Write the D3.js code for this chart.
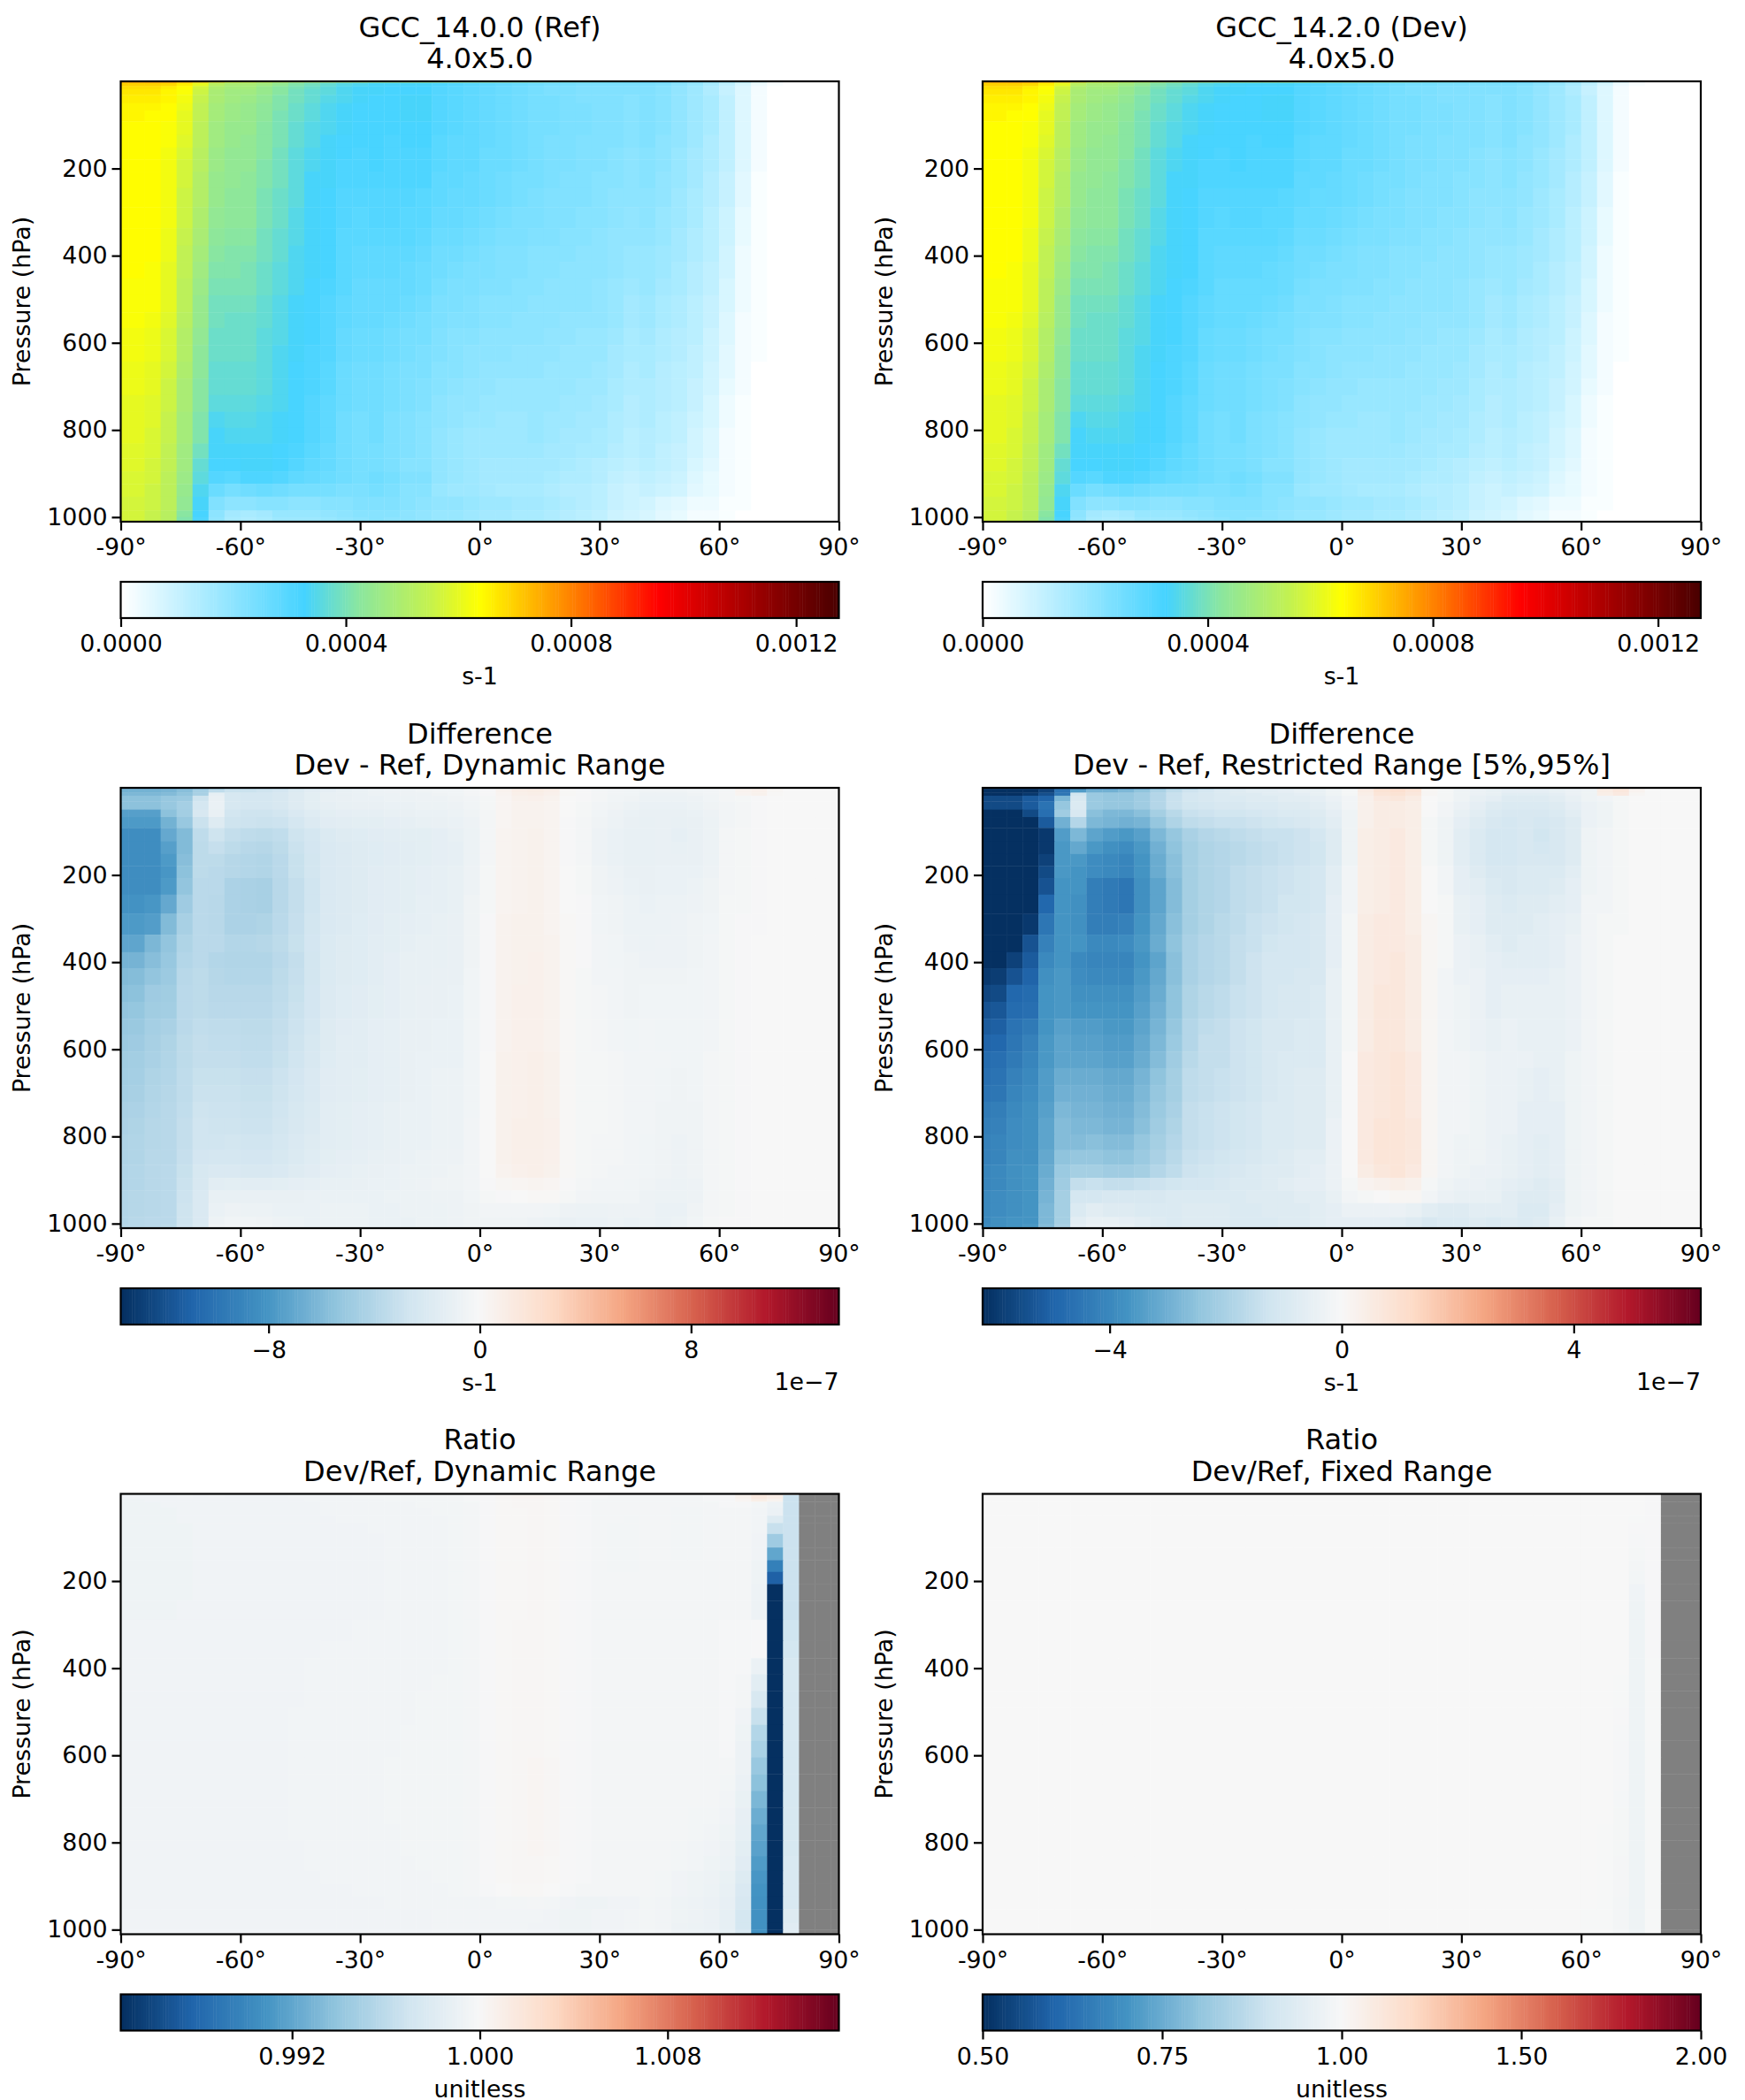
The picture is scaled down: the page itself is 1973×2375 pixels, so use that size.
<!DOCTYPE html>
<html>

<head>
    <style>
        body {
            margin: 0;
            background-color: #ffffff;
        }

        svg {
            display: block;
        }

        text {
            font-family: "DejaVu Sans", sans-serif;
            fill: #000000;
        }
    </style>
</head>

<body>
    <div id="visualization"></div>

    <script src="https://d3js.org/d3.v7.min.js"></script>

    <script>
        // grid: 4x5 latitude bands (half cells at the poles), pressure edges in hPa
        var latEdges = [-90, -88, -84, -80, -76, -72, -68, -64, -60, -56, -52, -48, -44, -40, -36, -32, -28, -24, -20, -16, -12, -8, -4, 0, 4, 8, 12, 16, 20, 24, 28, 32, 36, 40, 44, 48, 52, 56, 60, 64, 68, 72, 76, 80, 84, 88, 90];
        var pressureEdges = [0, 3, 11, 18, 31, 50, 67, 92, 123, 152, 179, 207, 245, 289, 337, 377, 414, 452, 491, 530, 566, 605, 643, 682, 720, 758, 795, 831, 865, 895, 924, 953, 985, 1000, 1010.5];
        var latTicks = [-90, -60, -30, 0, 30, 60, 90];
        var pressureTicks = [200, 400, 600, 800, 1000];

        // Ref field, units of 1e-5 s-1, one line per pressure band, top to bottom
        var refRows = [
            [80,82,83,83,80,76,70,62,60,58,56,55,55,55,55,55,55,55,54,54,53,52,50,48,46,44,42,40,38,37,36,35,34,33,32,30,27,25,22,18,10,3,0,0,0,0],
            [70,70,70,69,66,60,52,49,49,47,44,41,39,37,35,34,33,33,33,33,31,30,29,28,27,26,25,24,24,23,23,23,23,23,22,20,18,15,11,7,3,1,0,0,0,0],
            [68,68,68,66,64,57,50,48,48,45,42,40,38,36,34,33,33,32,32,32,30,29,28,27,26,25,24,23,23,22,22,22,22,22,21,19,17,14,10,6,2,0,0,0,0,0],
            [67,67,67,65,63,56,49,47,47,45,42,39,37,36,34,33,33,32,32,32,30,29,28,27,26,25,24,23,23,22,22,22,22,22,21,19,17,14,10,6,2,0,0,0,0,0],
            [66,66,66,65,62,55,49,47,46,44,41,39,37,35,34,33,32,32,33,33,30,29,28,27,26,25,24,24,23,22,22,22,21,22,21,19,17,15,11,6,2,0,0,0,0,0],
            [65,65,65,64,61,54,48,46,45,43,41,38,36,34,33,32,32,32,33,33,30,29,28,27,26,25,24,24,23,23,22,22,21,22,21,19,17,15,11,6,2,0,0,0,0,0],
            [65,65,64,64,60,54,48,46,45,43,40,38,36,34,33,32,32,32,33,33,30,29,28,27,26,25,24,24,23,23,22,22,21,22,21,19,17,15,11,6,2,0,0,0,0,0],
            [64,64,64,63,60,53,47,45,45,42,40,37,35,34,33,32,32,32,32,32,30,29,28,27,26,25,24,24,23,23,22,22,21,22,21,19,17,15,11,6,2,0,0,0,0,0],
            [64,64,64,63,59,53,47,45,44,42,40,37,35,33,32,32,32,31,32,32,29,28,28,27,26,25,24,23,23,22,22,22,21,22,20,19,17,14,11,6,2,0,0,0,0,0],
            [64,64,64,62,58,52,46,44,44,42,39,36,34,33,32,31,32,31,31,31,29,28,28,26,26,25,24,23,23,22,22,21,20,21,20,18,16,14,11,6,2,0,0,0,0,0],
            [64,64,64,62,57,52,46,44,44,41,39,36,34,33,31,31,32,31,31,31,29,28,28,26,26,25,24,23,23,22,22,21,20,21,20,18,16,14,11,6,2,0,0,0,0,0],
            [64,64,64,62,57,51,45,44,43,41,39,36,33,33,31,31,31,31,31,31,28,28,27,26,25,24,24,23,22,22,21,21,20,21,19,18,16,13,10,5,1,0,0,0,0,0],
            [64,64,64,62,56,51,45,43,43,40,38,36,33,32,30,30,30,30,30,29,28,27,27,26,25,24,23,22,22,22,21,20,20,20,19,17,15,13,10,5,1,0,0,0,0,0],
            [64,64,64,62,56,50,44,43,43,40,38,35,33,32,30,29,30,30,29,29,27,27,26,25,24,23,23,22,22,21,21,20,19,20,18,17,15,12,9,4,1,0,0,0,0,0],
            [64,64,64,61,55,49,43,42,42,39,37,35,33,32,29,29,29,29,29,28,26,26,25,24,23,23,22,22,21,21,20,19,19,19,18,16,14,12,9,4,1,0,0,0,0,0],
            [64,64,64,61,54,48,42,41,41,39,37,34,33,32,29,28,28,28,28,27,25,25,24,23,22,22,21,21,21,20,20,19,18,18,17,16,14,12,8,3,1,0,0,0,0,0],
            [64,64,63,60,54,47,41,41,40,38,36,34,33,32,29,28,28,28,27,26,25,24,23,23,22,22,21,21,20,20,20,19,18,18,17,15,13,11,8,3,1,0,0,0,0,0],
            [63,63,63,60,53,46,40,40,40,38,36,34,32,31,29,27,27,27,27,26,24,23,23,22,22,21,21,20,20,20,19,18,17,18,16,15,13,11,7,3,1,0,0,0,0,0],
            [63,63,63,60,53,45,39,39,39,37,35,33,32,30,28,27,27,27,26,25,23,23,22,21,21,21,20,20,20,20,19,18,16,17,15,14,12,10,7,3,1,0,0,0,0,0],
            [63,63,62,59,52,45,39,38,38,37,35,33,32,30,28,27,27,26,25,24,23,22,22,21,21,20,20,20,19,19,19,18,16,17,15,14,12,10,6,2,1,0,0,0,0,0],
            [62,62,61,58,51,44,38,38,38,36,35,33,32,30,27,26,26,25,24,24,22,21,21,20,20,20,20,19,19,18,18,17,15,16,14,13,12,9,6,2,1,0,0,0,0,0],
            [62,62,61,58,51,43,38,38,38,36,34,33,31,30,27,26,26,25,24,23,22,21,20,20,20,19,19,19,18,18,18,16,15,15,14,13,11,9,5,2,1,0,0,0,0,0],
            [61,61,60,57,50,43,37,37,37,36,34,32,31,29,26,25,25,24,23,23,21,21,20,19,19,19,19,18,18,18,17,16,14,15,13,12,11,8,5,2,0,0,0,0,0,0],
            [61,61,60,56,49,42,37,37,37,36,34,32,31,29,26,25,25,24,23,22,21,20,19,19,18,18,18,18,18,17,17,15,14,14,13,12,10,8,4,2,0,0,0,0,0,0],
            [60,60,59,56,49,42,36,36,36,35,34,32,30,28,26,25,25,24,23,22,20,19,19,18,18,18,18,18,17,17,16,15,13,14,13,12,10,7,3,1,0,0,0,0,0,0],
            [60,60,59,55,48,41,34,35,35,34,33,32,30,28,25,24,25,23,22,21,20,19,18,18,17,17,18,17,17,16,16,14,13,14,12,11,9,7,3,1,0,0,0,0,0,0],
            [60,60,58,55,48,41,33,34,34,34,33,32,30,28,25,24,25,23,22,21,19,18,17,17,17,17,18,17,16,16,15,14,12,13,12,11,8,6,2,1,0,0,0,0,0,0],
            [59,59,58,54,47,39,33,33,33,33,32,31,29,27,25,24,24,23,22,21,19,18,17,17,17,17,17,16,16,15,15,13,12,13,11,10,8,6,2,1,0,0,0,0,0,0],
            [59,59,57,54,47,37,32,32,33,33,32,30,28,27,25,24,24,23,21,21,19,18,17,16,16,16,16,16,15,14,13,12,11,12,11,10,7,5,2,1,0,0,0,0,0,0],
            [58,58,57,53,46,36,30,29,31,31,30,28,27,26,25,24,25,24,22,22,19,18,17,16,16,16,16,15,14,14,13,11,10,11,10,9,6,4,2,1,0,0,0,0,0,0],
            [58,58,56,53,45,34,26,24,25,26,25,24,24,24,23,23,24,23,21,21,18,17,17,16,15,15,15,14,13,13,12,10,9,10,9,8,5,4,2,1,0,0,0,0,0,0],
            [57,57,56,53,44,33,22,20,20,21,21,20,20,21,21,22,22,22,21,20,19,19,18,17,17,16,16,15,14,13,12,10,9,8,6,5,3,3,1,1,0,0,0,0,0,0],
            [57,57,55,52,42,32,20,16,15,16,18,18,18,19,20,21,21,21,20,19,18,18,17,16,16,15,15,14,13,12,11,9,8,7,5,4,2,2,1,0,0,0,0,0,0,0],
            [57,57,55,52,41,31,19,15,14,15,17,17,17,18,19,20,21,20,20,19,18,18,17,16,16,15,15,14,13,12,11,9,8,7,5,4,2,2,1,0,0,0,0,0,0,0]
        ];

        // Dev - Ref, units of 1e-8 s-1
        var diffRows = [
            [-70,-70,-70,-70,-70,-70,-65,-50,-50,-47,-45,-35,-30,-30,-25,-20,-15,-12,-10,-10,-9,-8,-6,-3,2,8,10,8,2,-1,-3,-5,-6,-7,-8,-8,-6,-5,-3,6,8,3,0,0,0,0],
            [-65,-65,-65,-63,-58,-46,-35,-30,-30,-28,-25,-20,-16,-13,-11,-9,-8,-7,-7,-6,-5,-5,-3,-1,5,9,10,8,1,-1,-3,-4,-5,-6,-6,-6,-5,-4,-3,5,7,2,0,0,0,0],
            [-62,-62,-62,-60,-55,-45,-12,-23,-24,-24,-22,-18,-14,-11,-10,-9,-8,-8,-7,-7,-6,-5,-3,-1,4,8,9,7,1,-1,-3,-4,-5,-7,-7,-7,-6,-4,-3,4,6,1,0,0,0,0],
            [-56,-56,-56,-52,-50,-28,-10,-23,-24,-24,-22,-18,-14,-11,-10,-9,-9,-8,-8,-7,-7,-6,-4,-2,3,6,7,5,0,-1,-3,-5,-6,-8,-8,-8,-7,-5,-3,-2,-1,0,0,0,0,0],
            [-56,-56,-56,-52,-46,-24,-9,-23,-24,-24,-22,-18,-14,-12,-11,-10,-10,-9,-9,-8,-8,-7,-5,-2,3,5,5,4,0,-2,-4,-6,-8,-9,-9,-9,-8,-6,-4,-3,-1,0,0,0,0,0],
            [-75,-75,-75,-56,-47,-22,-10,-26,-28,-28,-26,-21,-17,-14,-13,-12,-12,-11,-10,-9,-9,-8,-6,-3,3,5,5,4,0,-2,-5,-7,-9,-10,-10,-10,-9,-7,-4,-3,-1,0,0,0,0,0],
            [-78,-78,-78,-65,-52,-30,-18,-28,-29,-30,-29,-24,-19,-16,-15,-14,-14,-13,-12,-11,-10,-9,-7,-3,3,5,5,4,-1,-3,-6,-8,-10,-11,-10,-11,-10,-8,-4,-3,-1,0,0,0,0,0],
            [-85,-85,-85,-70,-60,-35,-28,-33,-35,-36,-34,-28,-24,-20,-18,-17,-16,-15,-14,-14,-13,-11,-8,-3,4,5,6,4,-1,-3,-7,-9,-11,-11,-10,-12,-10,-8,-3,-2,-1,0,0,0,0,0],
            [-85,-85,-85,-75,-60,-36,-32,-36,-38,-39,-36,-30,-25,-21,-19,-18,-17,-16,-15,-14,-13,-12,-8,-3,4,5,6,4,-1,-3,-7,-9,-11,-11,-10,-11,-10,-8,-3,-2,-1,0,0,0,0,0],
            [-85,-85,-85,-78,-58,-36,-36,-39,-40,-41,-37,-31,-26,-21,-19,-18,-17,-16,-15,-14,-13,-12,-8,-3,4,5,6,4,-1,-3,-7,-9,-11,-11,-10,-10,-10,-8,-3,-2,-1,0,0,0,0,0],
            [-85,-85,-85,-80,-56,-36,-37,-39,-40,-41,-37,-31,-26,-21,-19,-18,-16,-15,-14,-13,-12,-11,-7,-2,4,5,6,4,0,-2,-6,-8,-10,-10,-9,-9,-9,-7,-3,-2,-1,0,0,0,0,0],
            [-85,-85,-85,-78,-54,-37,-37,-43,-44,-45,-38,-33,-27,-21,-19,-18,-16,-15,-14,-13,-12,-11,-7,-2,4,5,6,4,0,-2,-6,-7,-9,-10,-9,-9,-8,-6,-3,-2,-1,0,0,0,0,0],
            [-82,-82,-80,-70,-49,-37,-38,-43,-44,-45,-38,-33,-27,-21,-19,-18,-16,-15,-14,-12,-12,-11,-6,-2,4,5,6,4,0,-1,-5,-6,-8,-9,-8,-8,-7,-6,-2,-2,-1,0,0,0,0,0],
            [-78,-78,-76,-60,-45,-37,-38,-43,-43,-42,-37,-32,-26,-21,-19,-17,-16,-14,-13,-12,-11,-10,-6,-1,5,6,6,4,1,-1,-5,-6,-8,-8,-8,-7,-6,-5,-2,-1,-1,0,0,0,0,0],
            [-72,-72,-62,-54,-42,-37,-37,-40,-40,-39,-36,-31,-25,-20,-18,-17,-15,-14,-12,-11,-11,-10,-6,-1,5,6,6,5,1,-1,-4,-5,-7,-8,-7,-7,-6,-4,-2,-1,0,0,0,0,0,0],
            [-64,-64,-58,-52,-40,-37,-40,-41,-41,-41,-37,-33,-26,-20,-18,-17,-15,-13,-11,-11,-11,-10,-6,-1,5,6,7,5,1,-1,-4,-5,-6,-7,-7,-7,-6,-4,-2,-1,0,0,0,0,0,0],
            [-60,-59,-54,-50,-38,-36,-39,-40,-40,-40,-36,-32,-26,-20,-18,-17,-15,-13,-11,-11,-10,-10,-5,-1,5,6,7,5,1,-2,-4,-4,-6,-6,-6,-6,-5,-4,-2,-1,0,0,0,0,0,0],
            [-57,-56,-49,-48,-37,-36,-38,-38,-38,-38,-35,-31,-25,-19,-17,-16,-14,-13,-11,-10,-10,-9,-5,-1,5,7,7,5,1,-2,-3,-4,-6,-5,-5,-5,-5,-4,-2,-1,0,0,0,0,0,0],
            [-54,-53,-48,-47,-37,-36,-37,-37,-37,-37,-34,-30,-25,-19,-17,-16,-14,-13,-11,-10,-10,-9,-5,-1,5,7,7,5,1,-2,-3,-4,-6,-5,-5,-5,-5,-4,-2,-1,0,0,0,0,0,0],
            [-52,-51,-46,-44,-37,-34,-35,-35,-36,-36,-33,-29,-24,-18,-16,-15,-13,-12,-10,-10,-9,-9,-5,-1,5,7,7,5,1,-2,-3,-4,-5,-4,-5,-5,-5,-4,-2,-1,0,0,0,0,0,0],
            [-50,-49,-45,-42,-36,-33,-34,-34,-35,-35,-32,-28,-23,-18,-15,-15,-13,-12,-10,-10,-9,-9,-5,-1,5,7,7,5,1,-2,-3,-4,-5,-4,-5,-5,-5,-4,-2,-1,0,0,0,0,0,0],
            [-48,-47,-44,-41,-36,-33,-33,-33,-34,-34,-31,-27,-22,-17,-15,-15,-13,-12,-10,-9,-9,-9,-5,0,6,7,8,6,1,-2,-2,-3,-4,-4,-4,-5,-5,-3,-2,-1,0,0,0,0,0,0],
            [-47,-46,-42,-40,-35,-31,-31,-31,-32,-32,-29,-25,-21,-16,-15,-14,-13,-12,-10,-9,-8,-8,-5,0,6,7,8,6,1,-2,-2,-3,-4,-4,-5,-6,-5,-3,-2,-1,0,0,0,0,0,0],
            [-46,-45,-41,-39,-35,-30,-30,-30,-31,-31,-28,-24,-21,-16,-15,-14,-13,-12,-10,-9,-8,-8,-5,0,6,7,8,6,1,-2,-2,-3,-4,-4,-5,-6,-5,-3,-2,-1,0,0,0,0,0,0],
            [-44,-43,-40,-38,-34,-28,-29,-29,-30,-30,-27,-23,-20,-15,-14,-13,-12,-11,-9,-9,-8,-8,-5,0,6,7,8,6,1,-2,-2,-3,-4,-4,-6,-6,-6,-3,-2,-1,0,0,0,0,0,0],
            [-43,-42,-39,-38,-33,-27,-28,-28,-29,-29,-26,-22,-19,-15,-14,-13,-12,-11,-9,-9,-8,-8,-4,0,6,8,8,7,1,-2,-2,-3,-4,-4,-6,-6,-6,-3,-2,-1,0,0,0,0,0,0],
            [-42,-41,-39,-38,-33,-27,-27,-26,-27,-27,-24,-21,-18,-15,-14,-13,-12,-11,-9,-9,-8,-8,-4,0,6,8,8,7,1,-2,-3,-3,-4,-5,-6,-7,-6,-3,-2,-1,0,0,0,0,0,0],
            [-42,-41,-38,-38,-32,-25,-24,-24,-25,-25,-23,-20,-17,-14,-13,-12,-11,-10,-9,-8,-7,-7,-4,0,6,8,8,7,1,-2,-3,-3,-4,-5,-6,-7,-6,-3,-2,-1,0,0,0,0,0,0],
            [-41,-40,-38,-37,-31,-23,-21,-21,-22,-22,-21,-18,-16,-13,-12,-11,-10,-9,-8,-8,-7,-6,-4,0,5,7,8,6,1,-2,-3,-4,-4,-5,-6,-7,-6,-3,-2,-1,0,0,0,0,0,0],
            [-41,-40,-38,-37,-30,-22,-15,-14,-15,-15,-14,-13,-12,-11,-11,-10,-9,-9,-8,-7,-6,-6,-4,-1,2,3,4,3,-1,-3,-4,-4,-5,-6,-7,-8,-7,-3,-2,-1,0,0,0,0,0,0],
            [-40,-39,-38,-37,-29,-21,-11,-11,-10,-10,-10,-10,-9,-9,-9,-9,-9,-8,-8,-8,-7,-7,-5,-2,-1,0,1,1,-2,-4,-5,-5,-5,-7,-8,-8,-7,-3,-2,-1,0,0,0,0,0,0],
            [-40,-39,-38,-37,-28,-21,-9,-7,-8,-8,-9,-9,-9,-8,-8,-8,-9,-9,-8,-8,-8,-7,-6,-4,-4,-4,-4,-5,-7,-8,-8,-7,-7,-7,-9,-9,-6,-3,-2,-1,0,0,0,0,0,0],
            [-40,-38,-37,-37,-28,-21,-7,-5,-5,-6,-7,-8,-9,-8,-8,-8,-9,-9,-9,-8,-8,-7,-6,-6,-6,-6,-7,-8,-10,-9,-9,-8,-9,-8,-9,-8,-5,-2,-1,-1,0,0,0,0,0,0],
            [-39,-38,-37,-36,-27,-20,-6,-4,-4,-5,-7,-8,-9,-8,-8,-8,-9,-9,-9,-8,-8,-7,-6,-6,-6,-6,-7,-8,-10,-9,-9,-8,-9,-8,-9,-8,-5,-2,-1,-1,0,0,0,0,0,0]
        ];

        // Dev/Ref minus one, units of 1e-4; null where Ref is zero (drawn grey)
        var ratioRows = [
            [-5,-5,-5,-5,-5,-6,-4,-5,-6,-6,-5,-5,-5,-4,-4,-4,-4,-4,-4,-4,-3,-3,-2,-1,2,3,3,2,-1,-2,-2,-2,-2,-2,-2,-2,-2,-1,-1,7,15,12,0,null,null,null],
            [-6,-6,-6,-6,-5,-6,-5,-6,-6,-6,-6,-5,-5,-5,-5,-4,-4,-4,-4,-4,-3,-3,-2,-1,2,3,3,2,-1,-2,-2,-3,-3,-3,-3,-3,-3,-2,-1,6,14,10,-33,null,null,null],
            [-7,-7,-6,-6,-6,-6,-6,-6,-6,-6,-6,-6,-5,-5,-5,-5,-5,-4,-4,-4,-4,-3,-2,-1,1,2,2,1,-1,-2,-3,-3,-3,-3,-3,-3,-3,-2,-2,3,10,6,-33,null,null,null],
            [-7,-7,-7,-6,-6,-6,-6,-6,-6,-6,-6,-6,-6,-5,-5,-5,-5,-5,-5,-4,-4,-4,-3,-1,1,2,2,1,-1,-2,-3,-3,-3,-3,-3,-3,-3,-3,-2,-2,-4,-8,-33,null,null,null],
            [-7,-7,-7,-7,-6,-6,-6,-6,-6,-6,-6,-6,-6,-5,-5,-5,-5,-5,-5,-5,-4,-4,-3,-1,1,1,2,1,-1,-2,-3,-3,-3,-3,-3,-4,-4,-3,-3,-3,-5,-10,-33,null,null,null],
            [-7,-7,-7,-7,-6,-6,-6,-6,-6,-6,-6,-6,-6,-6,-5,-5,-5,-5,-5,-5,-5,-4,-3,-1,1,1,2,1,-1,-2,-3,-3,-4,-3,-3,-4,-4,-3,-3,-3,-5,-20,-33,null,null,null],
            [-7,-7,-7,-7,-7,-6,-6,-6,-6,-6,-6,-6,-6,-6,-6,-6,-5,-5,-5,-5,-5,-4,-3,-1,1,1,2,1,-1,-2,-3,-4,-4,-3,-3,-4,-4,-3,-3,-3,-5,-35,-33,null,null,null],
            [-7,-7,-7,-7,-7,-6,-6,-6,-6,-6,-6,-6,-6,-6,-6,-6,-6,-5,-5,-5,-5,-4,-3,-1,1,1,2,1,-1,-2,-3,-4,-4,-3,-3,-4,-4,-3,-3,-3,-6,-55,-33,null,null,null],
            [-7,-7,-7,-7,-7,-6,-6,-6,-6,-6,-6,-6,-6,-6,-6,-6,-6,-5,-5,-5,-5,-4,-3,-1,1,1,2,1,-1,-2,-3,-4,-4,-3,-3,-4,-4,-3,-3,-3,-6,-80,-33,null,null,null],
            [-7,-7,-7,-7,-7,-6,-6,-6,-6,-6,-6,-6,-6,-6,-6,-6,-6,-5,-5,-5,-5,-4,-3,-1,1,1,2,1,-1,-2,-3,-4,-4,-3,-3,-3,-3,-3,-3,-3,-7,-105,-33,null,null,null],
            [-7,-7,-7,-7,-7,-6,-6,-6,-6,-6,-6,-6,-6,-6,-6,-6,-6,-5,-5,-5,-5,-4,-3,-1,1,1,2,1,-1,-2,-3,-3,-3,-3,-3,-3,-3,-3,-3,-3,-7,-125,-33,null,null,null],
            [-7,-7,-7,-7,-7,-6,-6,-6,-6,-6,-6,-6,-6,-6,-6,-6,-6,-5,-5,-5,-5,-4,-3,-1,1,1,2,1,-1,-2,-3,-3,-3,-3,-3,-3,-3,-3,-3,-3,-8,-200,-33,null,null,null],
            [-7,-7,-7,-7,-6,-6,-6,-6,-6,-6,-6,-6,-6,-6,-6,-6,-6,-5,-5,-5,-5,-4,-3,-1,1,1,2,1,-1,-2,-3,-3,-3,-3,-3,-3,-3,-3,-3,-3,-8,-250,-33,null,null,null],
            [-6,-6,-6,-6,-6,-6,-6,-6,-6,-6,-6,-6,-6,-6,-6,-5,-5,-5,-5,-5,-5,-4,-3,-1,1,2,2,1,-1,-2,-3,-3,-3,-3,-3,-3,-3,-3,-2,-2,-1,-250,-31,null,null,null],
            [-6,-6,-6,-6,-6,-6,-6,-6,-6,-6,-6,-6,-6,-5,-5,-5,-5,-5,-5,-5,-5,-4,-3,-1,1,2,2,1,-1,-2,-3,-3,-3,-3,-3,-3,-3,-3,-2,-2,-1,-250,-28,null,null,null],
            [-6,-6,-6,-6,-6,-6,-6,-6,-6,-6,-6,-6,-5,-5,-5,-5,-5,-5,-5,-5,-5,-4,-3,-1,1,2,2,1,-1,-2,-3,-3,-3,-3,-3,-3,-3,-3,-2,-2,-10,-250,-26,null,null,null],
            [-6,-6,-6,-6,-6,-6,-6,-6,-6,-6,-6,-6,-5,-5,-5,-5,-5,-5,-5,-5,-4,-4,-3,-1,1,2,2,1,-1,-2,-3,-3,-3,-3,-3,-3,-3,-3,-2,-3,-17,-250,-26,null,null,null],
            [-6,-6,-6,-6,-6,-6,-6,-6,-6,-6,-6,-6,-5,-5,-5,-5,-5,-5,-5,-4,-4,-4,-3,-1,1,2,2,1,-1,-2,-3,-3,-3,-3,-3,-3,-3,-3,-2,-3,-25,-250,-26,null,null,null],
            [-6,-6,-6,-6,-6,-6,-6,-6,-6,-6,-6,-5,-5,-5,-5,-5,-5,-5,-5,-4,-4,-4,-3,-1,1,2,2,1,-1,-2,-3,-3,-3,-3,-3,-3,-3,-3,-2,-6,-35,-250,-26,null,null,null],
            [-6,-6,-6,-6,-6,-6,-6,-6,-6,-6,-6,-5,-5,-5,-5,-5,-5,-5,-4,-4,-4,-4,-3,-1,1,2,2,1,-1,-2,-3,-3,-3,-3,-3,-3,-3,-3,-2,-7,-45,-250,-26,null,null,null],
            [-6,-6,-6,-6,-6,-6,-6,-6,-6,-6,-6,-5,-5,-5,-5,-5,-5,-5,-4,-4,-4,-4,-3,-1,1,2,2,1,-1,-2,-3,-3,-3,-3,-3,-3,-3,-3,-2,-8,-50,-250,-26,null,null,null],
            [-6,-6,-6,-6,-6,-6,-6,-6,-6,-6,-6,-5,-5,-5,-5,-5,-5,-4,-4,-4,-4,-4,-3,-1,1,2,3,2,-1,-2,-3,-3,-3,-3,-3,-3,-3,-3,-3,-8,-58,-250,-26,null,null,null],
            [-6,-6,-6,-6,-6,-6,-6,-6,-6,-6,-6,-5,-5,-5,-5,-5,-5,-4,-4,-4,-4,-4,-3,-1,1,2,3,2,-1,-2,-3,-3,-3,-3,-3,-3,-3,-3,-4,-10,-63,-250,-26,null,null,null],
            [-6,-6,-6,-6,-6,-6,-6,-6,-6,-6,-6,-5,-5,-5,-5,-5,-5,-4,-4,-4,-4,-4,-3,-1,1,2,3,2,-1,-2,-3,-3,-3,-3,-3,-3,-3,-3,-5,-11,-70,-250,-26,null,null,null],
            [-6,-6,-6,-6,-6,-6,-6,-6,-6,-6,-6,-5,-5,-5,-5,-5,-5,-4,-4,-4,-4,-4,-3,-1,1,2,3,2,-1,-2,-3,-3,-3,-3,-3,-3,-4,-4,-6,-13,-76,-250,-26,null,null,null],
            [-6,-6,-6,-6,-6,-6,-6,-6,-6,-6,-6,-5,-5,-5,-5,-5,-5,-5,-4,-4,-4,-4,-3,-1,1,2,3,2,-1,-2,-3,-3,-3,-3,-3,-3,-4,-5,-7,-14,-80,-250,-26,null,null,null],
            [-6,-6,-6,-6,-6,-6,-6,-6,-6,-6,-6,-6,-5,-5,-5,-5,-5,-5,-4,-4,-4,-4,-3,-1,1,2,3,2,-1,-2,-3,-3,-3,-3,-3,-4,-5,-6,-8,-16,-83,-250,-26,null,null,null],
            [-6,-6,-6,-6,-6,-6,-6,-6,-6,-6,-6,-6,-5,-5,-5,-5,-5,-5,-5,-4,-4,-4,-3,-1,1,2,2,1,-1,-2,-3,-3,-3,-3,-3,-4,-5,-7,-9,-18,-87,-250,-24,null,null,null],
            [-6,-6,-6,-6,-6,-6,-6,-6,-6,-6,-6,-6,-6,-5,-5,-5,-5,-5,-5,-5,-4,-4,-3,-1,1,2,2,1,-1,-2,-3,-3,-3,-3,-4,-6,-7,-8,-11,-21,-90,-250,-24,null,null,null],
            [-6,-6,-6,-6,-6,-6,-6,-6,-6,-6,-6,-6,-6,-6,-6,-5,-5,-5,-5,-5,-5,-4,-3,-2,0,1,1,0,-2,-3,-3,-3,-3,-3,-4,-6,-7,-9,-12,-23,-92,-250,-24,null,null,null],
            [-6,-6,-6,-6,-6,-6,-6,-6,-6,-6,-6,-6,-6,-6,-6,-6,-6,-5,-5,-5,-5,-5,-5,-5,-4,-4,-3,-4,-6,-7,-7,-6,-6,-4,-5,-7,-8,-10,-13,-25,-93,-250,-24,null,null,null],
            [-6,-6,-6,-6,-6,-6,-6,-6,-6,-6,-6,-6,-6,-6,-6,-6,-6,-6,-6,-6,-5,-5,-5,-5,-5,-5,-5,-6,-7,-7,-6,-6,-5,-4,-5,-7,-8,-10,-14,-27,-93,-250,-20,null,null,null],
            [-6,-6,-6,-6,-6,-6,-6,-6,-6,-6,-6,-6,-6,-6,-6,-6,-6,-6,-6,-6,-5,-5,-5,-5,-5,-5,-6,-6,-7,-7,-6,-6,-5,-4,-5,-8,-9,-10,-14,-27,-93,-250,-18,null,null,null],
            [-6,-6,-6,-6,-6,-6,-6,-6,-6,-6,-6,-6,-6,-6,-6,-6,-6,-6,-6,-6,-5,-5,-5,-5,-5,-5,-6,-6,-7,-7,-6,-6,-5,-4,-5,-8,-9,-10,-14,-25,-93,-250,-18,null,null,null]
        ];

        // colour bar ticks and ranges
        var refRange = [0, 127.6];
        var refTicks = [0, 40, 80, 120];
        var diffRangeDynamic = [-136, 136];
        var diffTicksDynamic = [-80, 0, 80];
        var diffRangeRestricted = [-61.9, 61.9];
        var diffTicksRestricted = [-40, 0, 40];
        var ratioRangeDynamic = [0.9847, 1.0153];
        var ratioTicksDynamic = [0.992, 1, 1.008];
        var ratioRangeFixed = [0.5, 1, 2];
        var ratioTicksFixed = [0.5, 0.75, 1, 1.5, 2];

        // colour maps
        var heatStops = [0, 0.255, 0.33, 0.43, 0.5, 0.63, 0.75, 1];
        var heatColors = ["#ffffff", "#45d3ff", "#8ae6a0", "#c5f24e", "#ffff00", "#ff8000", "#ff0000", "#4a0000"];
        var rdbuStops = [0, 0.1, 0.2, 0.3, 0.4, 0.5, 0.6, 0.7, 0.8, 0.9, 1];
        var rdbuColors = ["#053061", "#2166ac", "#4393c3", "#92c5de", "#d1e5f0", "#f7f7f7", "#fddbc7", "#f4a582", "#d6604d", "#b2182b", "#67001f"];

        var heatMap = d3.scaleLinear().domain(heatStops).range(heatColors).interpolate(d3.interpolateRgb);
        var rdbuMap = d3.scaleLinear().domain(rdbuStops).range(rdbuColors).interpolate(d3.interpolateRgb);

        var plotW = 812, plotH = 498;
        var columnX = [136.5, 1111];
        var rowY = [92, 891, 1689.5];
        var TICK_FONT = 26.8, TITLE_FONT = 32;

        var svg = d3.select("#visualization").append("svg")
            .attr("width", 1973)
            .attr("height", 2375);

        function minusSign(s) {
            return s.replace("-", "\u2212");
        }

        function drawPanel(col, row, titleLines, field, range, ticks, tickFormat, cmap, unit, offsetText) {
            var left = columnX[col], top = rowY[row];
            var g = svg.append("g");

            // scale from value to position along the colour bar, pixels
            var barScale = d3.scaleLinear()
                .domain(range)
                .range(range.length == 3 ? [0, plotW / 2, plotW] : [0, plotW])
                .clamp(true);

            var x = d3.scaleLinear().domain([-90, 90]).range([left, left + plotW]);
            var y = d3.scaleLinear().domain([0, 1010.5]).range([top, top + plotH]);

            var rows = g.selectAll("g.band")
                .data(field)
                .enter()
                .append("g")
                .attr("class", "band");

            rows.each(function (values, r) {
                d3.select(this).selectAll("rect")
                    .data(values)
                    .enter()
                    .append("rect")
                    .attr("x", (d, i) => x(latEdges[i]))
                    .attr("y", y(pressureEdges[r]))
                    .attr("width", (d, i) => x(latEdges[i + 1]) - x(latEdges[i]) + 0.4)
                    .attr("height", y(pressureEdges[r + 1]) - y(pressureEdges[r]) + 0.4)
                    .attr("fill", d => d == null ? "#808080" : cmap(barScale(d) / plotW));
            });

            g.append("rect")
                .attr("x", left).attr("y", top)
                .attr("width", plotW).attr("height", plotH)
                .attr("fill", "none").attr("stroke", "#000").attr("stroke-width", 2.2);

            var xAxis = g.append("g")
                .attr("transform", "translate(0," + (top + plotH) + ")")
                .call(d3.axisBottom(x).tickValues(latTicks).tickSize(10).tickPadding(9).tickFormat(d => d + "\u00b0"));
            var yAxis = g.append("g")
                .attr("transform", "translate(" + left + ",0)")
                .call(d3.axisLeft(y).tickValues(pressureTicks).tickSize(10).tickPadding(5).tickFormat(d => String(d)));

            // colour bar
            var barTop = top + 566, barH = 41;
            var barG = g.append("g").attr("transform", "translate(" + left + "," + barTop + ")");
            barG.selectAll("rect")
                .data(d3.range(256))
                .enter()
                .append("rect")
                .attr("x", d => d / 256 * plotW)
                .attr("y", 0)
                .attr("width", plotW / 256 + 0.5)
                .attr("height", barH)
                .attr("fill", d => cmap(d / 255));
            barG.append("rect")
                .attr("width", plotW).attr("height", barH)
                .attr("fill", "none").attr("stroke", "#000").attr("stroke-width", 2.2);

            var barAxis = barG.append("g")
                .attr("transform", "translate(0," + barH + ")")
                .call(d3.axisBottom(barScale).tickValues(ticks).tickSize(10).tickPadding(9).tickFormat(tickFormat));

            [xAxis, yAxis, barAxis].forEach(function (a) {
                a.select(".domain").remove();
                a.selectAll("line").attr("stroke", "#000").attr("stroke-width", 2.2);
                a.selectAll("text").attr("fill", "#000").style("font-size", TICK_FONT + "px").style("font-family", '"DejaVu Sans"');
            });

            g.append("text")
                .attr("transform", "translate(" + (left - 110) + "," + (top + plotH / 2) + ") rotate(-90)")
                .attr("text-anchor", "middle")
                .attr("dominant-baseline", "middle")
                .style("font-size", TICK_FONT + "px")
                .text("Pressure (hPa)");

            g.selectAll("text.title")
                .data(titleLines)
                .enter()
                .append("text")
                .attr("class", "title")
                .attr("x", left + plotW / 2)
                .attr("y", (d, i) => top - 50.5 + i * 35.5)
                .attr("text-anchor", "middle")
                .style("font-size", TITLE_FONT + "px")
                .text(d => d);

            g.append("text")
                .attr("x", left + plotW / 2)
                .attr("y", barTop + barH + 75)
                .attr("text-anchor", "middle")
                .style("font-size", TICK_FONT + "px")
                .text(unit);

            if (offsetText) {
                g.append("text")
                    .attr("x", left + plotW)
                    .attr("y", barTop + barH + 74)
                    .attr("text-anchor", "end")
                    .style("font-size", TICK_FONT + "px")
                    .text(offsetText);
            }
        }

        // Dev is rebuilt from Ref and the difference; the two fields share the picture's scale
        var devRows = refRows.map((rowValues, r) => rowValues.map((v, i) => v + diffRows[r][i] / 1000));
        var ratioValues = ratioRows.map(rowValues => rowValues.map(v => v == null ? null : 1 + v / 10000));

        var refFormat = d => (d * 1e-5).toFixed(4);
        var diffFormat = d => minusSign(String(d / 10));

        drawPanel(0, 0, ["GCC_14.0.0 (Ref)", "4.0x5.0"], refRows, refRange, refTicks, refFormat, heatMap, "s-1");
        drawPanel(1, 0, ["GCC_14.2.0 (Dev)", "4.0x5.0"], devRows, refRange, refTicks, refFormat, heatMap, "s-1");
        drawPanel(0, 1, ["Difference", "Dev - Ref, Dynamic Range"], diffRows, diffRangeDynamic, diffTicksDynamic, diffFormat, rdbuMap, "s-1", "1e\u22127");
        drawPanel(1, 1, ["Difference", "Dev - Ref, Restricted Range [5%,95%]"], diffRows, diffRangeRestricted, diffTicksRestricted, diffFormat, rdbuMap, "s-1", "1e\u22127");
        drawPanel(0, 2, ["Ratio", "Dev/Ref, Dynamic Range"], ratioValues, ratioRangeDynamic, ratioTicksDynamic, d => d.toFixed(3), rdbuMap, "unitless");
        drawPanel(1, 2, ["Ratio", "Dev/Ref, Fixed Range"], ratioValues, ratioRangeFixed, ratioTicksFixed, d => d.toFixed(2), rdbuMap, "unitless");
    </script>
</body>

</html>
